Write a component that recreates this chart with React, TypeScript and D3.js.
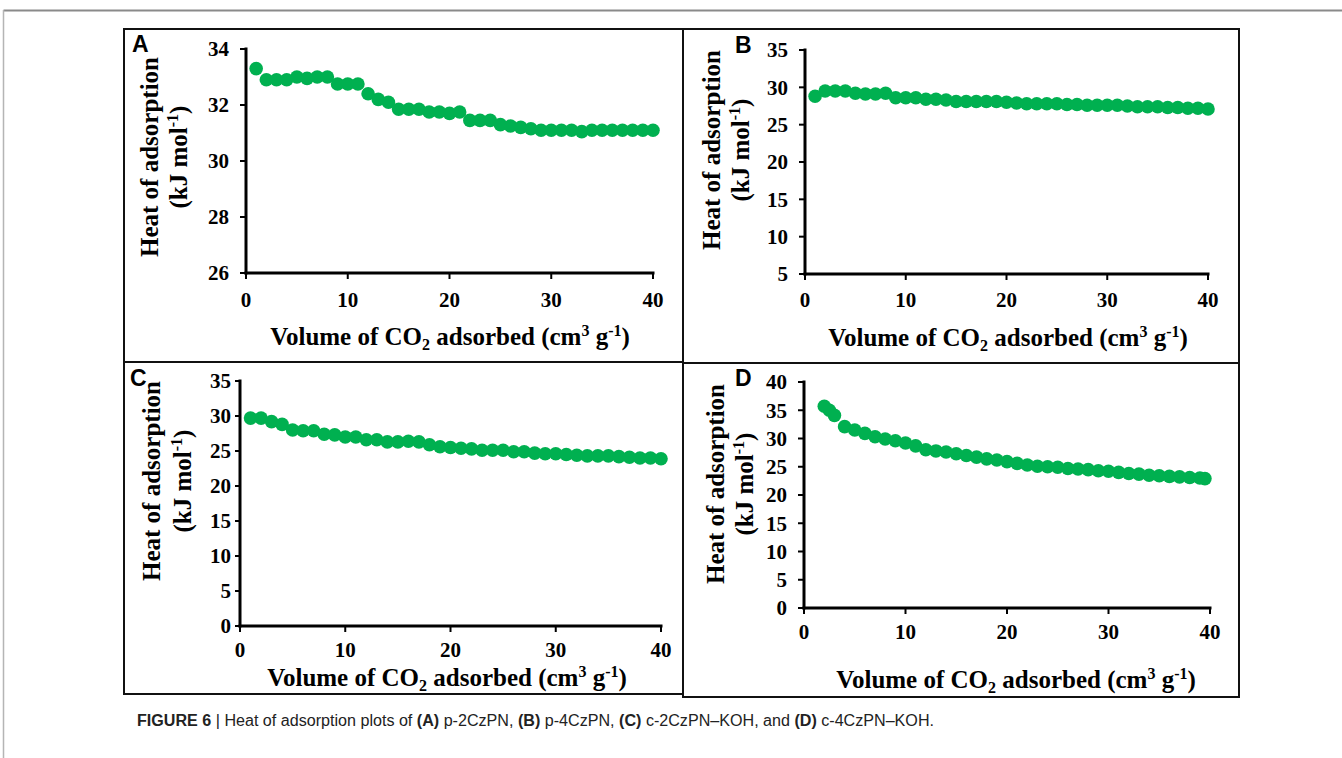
import React from 'react';
import * as d3 from 'd3';

// ---------- data ----------
const volumeABC = [1, 2, 3, 4, 5, 6, 7, 8, 9, 10, 11, 12, 13, 14, 15, 16, 17, 18, 19, 20,
  21, 22, 23, 24, 25, 26, 27, 28, 29, 30, 31, 32, 33, 34, 35, 36, 37, 38, 39, 40];

const heatA = [33.3, 32.9, 32.9, 32.9, 33.0, 32.95, 33.0, 33.0, 32.75, 32.75,
  32.75, 32.4, 32.2, 32.1, 31.85, 31.85, 31.85, 31.75, 31.75, 31.7,
  31.75, 31.45, 31.45, 31.45, 31.3, 31.25, 31.2, 31.15, 31.1, 31.1,
  31.1, 31.1, 31.05, 31.1, 31.1, 31.1, 31.1, 31.1, 31.1, 31.1];

const heatB = [28.8, 29.5, 29.5, 29.5, 29.2, 29.1, 29.1, 29.2, 28.6, 28.6,
  28.6, 28.4, 28.4, 28.3, 28.1, 28.1, 28.1, 28.1, 28.1, 28.0,
  27.9, 27.8, 27.8, 27.8, 27.8, 27.7, 27.7, 27.6, 27.6, 27.6,
  27.6, 27.5, 27.4, 27.4, 27.4, 27.3, 27.3, 27.2, 27.2, 27.1];

const heatC = [29.7, 29.7, 29.2, 28.8, 28.0, 27.9, 27.9, 27.4, 27.3, 27.0,
  27.0, 26.6, 26.6, 26.3, 26.3, 26.4, 26.3, 25.9, 25.6, 25.5,
  25.4, 25.3, 25.1, 25.1, 25.1, 24.9, 24.9, 24.7, 24.6, 24.6,
  24.5, 24.4, 24.3, 24.3, 24.3, 24.2, 24.1, 24.0, 24.0, 23.9];

const volumeD = [2, 2.5, 3, 4, 5, 6, 7, 8, 9, 10, 11, 12, 13, 14, 15, 16, 17, 18, 19, 20,
  21, 22, 23, 24, 25, 26, 27, 28, 29, 30, 31, 32, 33, 34, 35, 36, 37, 38, 39, 39.5];
const heatD = [35.7, 35.0, 34.1, 32.1, 31.5, 30.9, 30.3, 29.9, 29.6, 29.2,
  28.7, 28.0, 27.8, 27.6, 27.3, 27.0, 26.7, 26.4, 26.2, 25.9,
  25.6, 25.3, 25.1, 25.0, 24.9, 24.7, 24.6, 24.5, 24.3, 24.2,
  24.0, 23.8, 23.7, 23.5, 23.4, 23.3, 23.2, 23.1, 23.0, 22.9];

const xTicks = [0, 10, 20, 30, 40];
const yTicksA = [26, 28, 30, 32, 34];
const yTicksB = [5, 10, 15, 20, 25, 30, 35];
const yTicksC = [0, 5, 10, 15, 20, 25, 30, 35];
const yTicksD = [0, 5, 10, 15, 20, 25, 30, 35, 40];
const panelLetters = ['A', 'B', 'C', 'D'];

const captionParts = [
  { t: 'FIGURE 6', b: true },
  { t: ' | Heat of adsorption plots of ', b: false },
  { t: '(A)', b: true },
  { t: ' p-2CzPN, ', b: false },
  { t: '(B)', b: true },
  { t: ' p-4CzPN, ', b: false },
  { t: '(C)', b: true },
  { t: ' c-2CzPN\u2013KOH, and ', b: false },
  { t: '(D)', b: true },
  { t: ' c-4CzPN\u2013KOH.', b: false },
];

const GREEN = '#00B050';
const SERIF = '"Liberation Serif", "Times New Roman", serif';
const SANS = '"Liberation Sans", Arial, sans-serif';

const panels = [
  {
    letter: panelLetters[0], xs: volumeABC, ys: heatA, yTicks: yTicksA,
    box: [124, 29, 683, 362], xRange: [246, 653], yDomain: [26, 34], yRange: [273, 49],
    tickRight: 229, tickLen: 6, xTickY: 307, xTitle: [450, 345], yTitle: [149, 179, 157], label: [132, 52],
  },
  {
    letter: panelLetters[1], xs: volumeABC, ys: heatB, yTicks: yTicksB,
    box: [683, 29, 1239, 363], xRange: [805, 1208], yDomain: [5, 35], yRange: [274, 50],
    tickRight: 788, tickLen: 6, xTickY: 307, xTitle: [1008, 346], yTitle: [711, 741, 150], label: [735, 53],
  },
  {
    letter: panelLetters[2], xs: volumeABC, ys: heatC, yTicks: yTicksC,
    box: [124, 362, 683, 694], xRange: [240, 661], yDomain: [0, 35], yRange: [626, 381],
    tickRight: 231, tickLen: 5, xTickY: 657, xTitle: [447, 686], yTitle: [151, 183, 481], label: [130, 386],
  },
  {
    letter: panelLetters[3], xs: volumeD, ys: heatD, yTicks: yTicksD,
    box: [683, 363, 1239, 697], xRange: [804, 1210], yDomain: [0, 40], yRange: [608, 382],
    tickRight: 787, tickLen: 6, xTickY: 639, xTitle: [1016, 688], yTitle: [715, 745, 484], label: [735, 386],
  },
];

const TICK_FS = 21;
const TITLE_FS = 25;
const SUP_FS = 16;

function Panel({ cfg }: { cfg: any }) {
  const x = d3.scaleLinear().domain([0, 40]).range(cfg.xRange);
  const y = d3.scaleLinear().domain(cfg.yDomain).range(cfg.yRange);
  const [bx0, by0, bx1, by1] = cfg.box;
  const x0 = x(0);
  const yb = y(cfg.yDomain[0]);
  const yTop = y(cfg.yDomain[1]);
  const pts = cfg.xs.map((v: number, i: number) => [v, cfg.ys[i]]);
  const [tx, ty] = cfg.xTitle;
  const [yt1, yt2, ycy] = cfg.yTitle;
  return (
    <g>
      <rect x={bx0} y={by0} width={bx1 - bx0} height={by1 - by0} fill="none" stroke="#111" strokeWidth={2} />
      <text x={cfg.label[0]} y={cfg.label[1]} fontFamily={SANS} fontWeight="bold" fontSize={23} fill="#000">
        {cfg.letter}
      </text>
      {/* points */}
      {pts.map((p: number[], i: number) => (
        <circle key={i} cx={x(p[0])} cy={y(p[1])} r={6.8} fill={GREEN} />
      ))}
      {/* axes */}
      <line x1={x0} y1={yTop - 1.5} x2={x0} y2={yb + 1.5} stroke="#000" strokeWidth={3} />
      <line x1={x0 - 1.5} y1={yb} x2={x(40) + 1.5} y2={yb} stroke="#000" strokeWidth={3} />
      {cfg.yTicks.map((t: number) => (
        <g key={'y' + t}>
          <line x1={x0 - cfg.tickLen} y1={y(t)} x2={x0} y2={y(t)} stroke="#000" strokeWidth={2} />
          <text x={cfg.tickRight} y={y(t)} dy="0.35em" textAnchor="end" fontFamily={SERIF}
            fontWeight="bold" fontSize={TICK_FS} fill="#000">{t}</text>
        </g>
      ))}
      {xTicks.map((t) => (
        <g key={'x' + t}>
          <line x1={x(t)} y1={yb} x2={x(t)} y2={yb + 6} stroke="#000" strokeWidth={2} />
          <text x={x(t)} y={cfg.xTickY} textAnchor="middle" fontFamily={SERIF}
            fontWeight="bold" fontSize={TICK_FS} fill="#000">{t}</text>
        </g>
      ))}
      {/* x title */}
      <text x={tx} y={ty} textAnchor="middle" fontFamily={SERIF} fontWeight="bold" fontSize={TITLE_FS} fill="#000">
        Volume of CO<tspan fontSize={SUP_FS} dy={5}>2</tspan>
        <tspan dy={-5}> adsorbed (cm</tspan>
        <tspan fontSize={SUP_FS} dy={-9}>3</tspan>
        <tspan dy={9}> g</tspan>
        <tspan fontSize={SUP_FS} dy={-9}>-1</tspan>
        <tspan dy={9}>)</tspan>
      </text>
      {/* y title */}
      <text transform={`translate(${yt1},${ycy}) rotate(-90)`} dy="0.35em" textAnchor="middle"
        fontFamily={SERIF} fontWeight="bold" fontSize={TITLE_FS} fill="#000">Heat of adsorption</text>
      <text transform={`translate(${yt2},${ycy}) rotate(-90)`} y={8} textAnchor="middle"
        fontFamily={SERIF} fontWeight="bold" fontSize={TITLE_FS} fill="#000">
        (kJ mol<tspan fontSize={SUP_FS} dy={-9}>-1</tspan><tspan dy={9}>)</tspan>
      </text>
    </g>
  );
}

export default function App() {
  return (
    <svg width={1342} height={758} viewBox="0 0 1342 758"
      style={{ position: 'absolute', left: 0, top: 0, background: '#fff' }}>
      <rect x={0} y={0} width={1342} height={758} fill="#fff" />
      <line x1={3.5} y1={10.5} x2={1342} y2={10.5} stroke="#8a8a8a" strokeWidth={2} />
      <line x1={3.5} y1={10} x2={3.5} y2={758} stroke="#b5b5b5" strokeWidth={1.5} />
      {panels.map((p) => <Panel key={p.letter} cfg={p} />)}
      <text x={137} y={726} fontFamily={SANS} fontSize={16} fill="#222" textLength={797} lengthAdjust="spacingAndGlyphs">
        {captionParts.map((c, i) => (
          <tspan key={i} fontWeight={c.b ? 'bold' : 'normal'}>{c.t}</tspan>
        ))}
      </text>
    </svg>
  );
}
